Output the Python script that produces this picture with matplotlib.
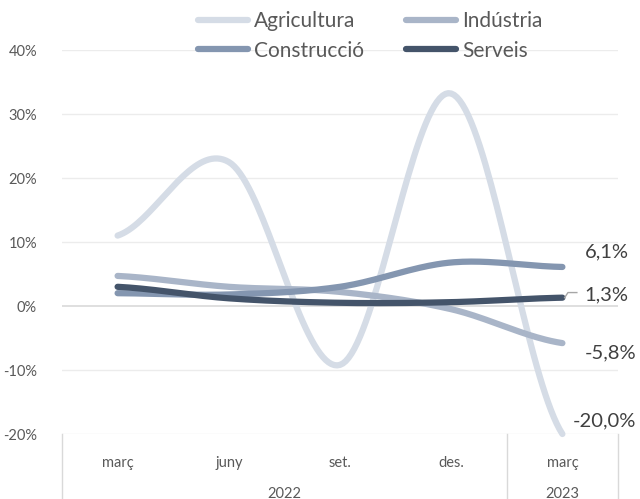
import numpy as np
import matplotlib.pyplot as plt
from matplotlib.transforms import blended_transform_factory

plt.rcParams['font.family'] = ['Lato', 'DejaVu Sans']

months = ['març', 'juny', 'set.', 'des.', 'març']
years = ['2022', '2023']
series = ['Agricultura', 'Indústria', 'Construcció', 'Serveis']
agricultura = [11.0, 22.5, -9.2, 33.2, -20.0]
industria = [4.7, 3.0, 2.2, -0.5, -5.8]
construccio = [2.0, 1.8, 3.0, 6.8, 6.1]
serveis = [3.0, 1.2, 0.5, 0.6, 1.3]
colors = ['#d5dce6', '#a9b5c8', '#8496b0', '#44546a']
end_labels = ['-20,0%', '-5,8%', '6,1%', '1,3%']


def smooth(y, n=40):
    # catmull-rom curve through the points, like Excel's smoothed line
    y = np.asarray(y, float)
    x = np.arange(len(y), dtype=float)
    p = np.concatenate([[y[0]], y, [y[-1]]])
    xs, ys = [], []
    for i in range(len(y) - 1):
        t = np.linspace(0, 1, n)
        b0, b1, b2, b3 = p[i], p[i + 1], p[i + 2], p[i + 3]
        c1 = b1 + (b2 - b0) / 6
        c2 = b2 - (b3 - b1) / 6
        yy = (1 - t) ** 3 * b1 + 3 * (1 - t) ** 2 * t * c1 + 3 * (1 - t) * t ** 2 * c2 + t ** 3 * b2
        xs.append(x[i] + t)
        ys.append(yy)
    return np.concatenate(xs), np.concatenate(ys)


fig = plt.figure(figsize=(6.4, 4.99), dpi=100)
ax = fig.add_axes([62 / 640, 65 / 499, 556 / 640, 384 / 499])

for v in [-20, -10, 10, 20, 30, 40]:
    ax.axhline(v, color='#ececec', lw=1, zorder=0)
ax.axhline(0, color='#d9d9d9', lw=1.2, zorder=0)

data = [agricultura, industria, construccio, serveis]
lines = {}
for name, vals, c in zip(series, data, colors):
    xs, ys = smooth(vals)
    lines[name], = ax.plot(xs, ys, color=c, lw=4.5, solid_capstyle='round', label=name, clip_on=False)

ax.set_xlim(-0.5, 4.5)
ax.set_ylim(-20, 40)
ax.set_yticks(range(-20, 41, 10))
ax.set_yticklabels([f'{v}%' for v in range(-20, 41, 10)], color='#595959', fontsize=10.5)
ax.tick_params(axis='y', length=0, pad=18)
ax.set_xticks([])
for s in ax.spines.values():
    s.set_visible(False)

# end-point labels
last = len(months) - 1
lab_off = {'-20,0%': (0.09, 2.0), '-5,8%': (0.2, -1.6), '6,1%': (0.2, 2.3), '1,3%': (0.2, 0.5)}
for vals, lab in zip(data, end_labels):
    dx, dy = lab_off[lab]
    ax.text(last + dx, vals[-1] + dy, lab, fontsize=14.5, color='#404040', va='center', ha='left')
yl = serveis[-1]
ax.plot([last + 0.02, last + 0.05, last + 0.13], [yl, yl + 0.8, yl + 0.8], color='#a6a6a6', lw=1)

# category axis with year groups
tr = blended_transform_factory(ax.transData, ax.transAxes)
for xv in [-0.5, 3.5, 4.5]:
    ax.plot([xv, xv], [0, -0.2], color='#d9d9d9', lw=1, transform=tr, clip_on=False)
for i, m in enumerate(months):
    ax.text(i, -0.075, m, transform=tr, ha='center', va='center', fontsize=10.5, color='#595959')
ax.text(1.5, -0.155, years[0], transform=tr, ha='center', va='center', fontsize=10.5, color='#595959')
ax.text(4, -0.155, years[1], transform=tr, ha='center', va='center', fontsize=10.5, color='#595959')

# legend fills column-wise, so order gives rows Agricultura/Indústria, Construcció/Serveis
order = ['Agricultura', 'Construcció', 'Indústria', 'Serveis']
fig.legend([lines[k] for k in order], order, loc='upper center', bbox_to_anchor=(0.578, 1.015),
           ncol=2, frameon=False, fontsize=15, handlelength=2.4, handletextpad=0.3,
           columnspacing=2.0, labelspacing=0.45, labelcolor='#595959')

fig.savefig('out.png', dpi=100)
